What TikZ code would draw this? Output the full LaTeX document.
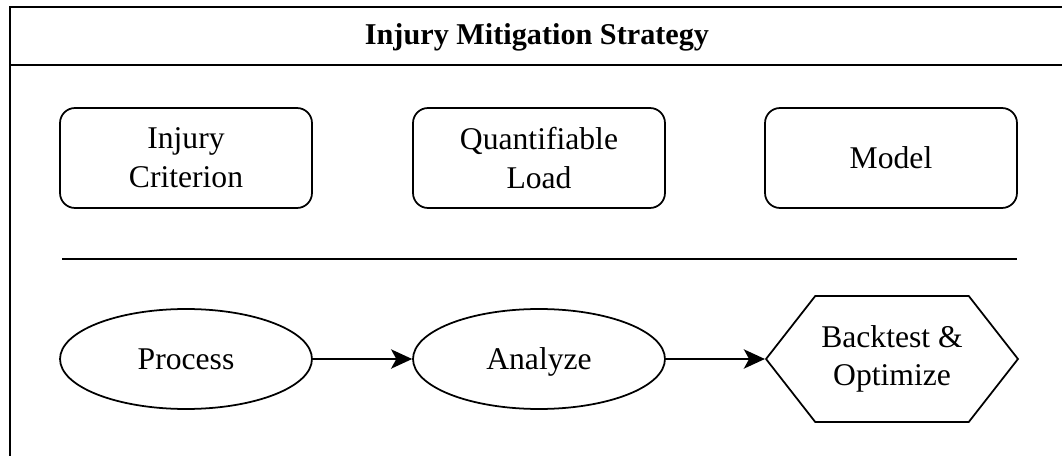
\documentclass[tikz,border=0pt]{standalone}
\usepackage{fontspec}
\setmainfont{Liberation Serif}
\usetikzlibrary{shapes.geometric,shapes.symbols,arrows.meta}
\tikzset{
    frame/.style={line width=1pt},
    box/.style={draw, line width=1pt, rounded corners=0.3cm, minimum width=5.04cm, minimum height=2cm, align=center, font=\fontsize{18}{22}\selectfont},
    oval/.style={draw, ellipse, line width=1pt, minimum width=5.04cm, minimum height=2cm, text height=12pt, text depth=0pt, font=\fontsize{18}{22}\selectfont},
    hexa/.style={draw, signal, signal to=west and east, signal pointer angle=104, line width=1pt, minimum width=5.04cm, minimum height=2.52cm, inner sep=0pt, align=center, font=\fontsize{18}{22}\selectfont},
    flow/.style={-{Stealth[length=12pt,width=11pt,inset=3pt]}, line width=1pt}
}
\begin{document}
\begin{tikzpicture}[x=0.02cm, y=-0.02cm]
    \useasboundingbox (0,0) rectangle (1062,456);

    % Frame
    \draw[frame] (1062,7) -- (10,7) -- (10,456);
    \draw[frame] (10,65) -- (1062,65);
    \node[font=\fontsize{17.2}{20}\selectfont\bfseries] (title) at (537,37) {Injury Mitigation Strategy};

    % Components
    \node[box] (criterion) at (186,158) {Injury\\Criterion};
    \node[box] (load) at (539,158) {Quantifiable\\Load};
    \node[box] (model) at (891,158) {Model};

    % Separator
    \draw[line width=1pt] (62,259) -- (1017,259);

    % Process flow
    \node[oval] (process) at (186,359) {Process};
    \node[oval] (analyze) at (539,359) {Analyze};
    \node[hexa] (backtest) at (892,359) {Backtest \&\\Optimize};

    \draw[flow] (process) -- (analyze);
    \draw[flow] (analyze) -- (backtest);

\end{tikzpicture}
\end{document}
